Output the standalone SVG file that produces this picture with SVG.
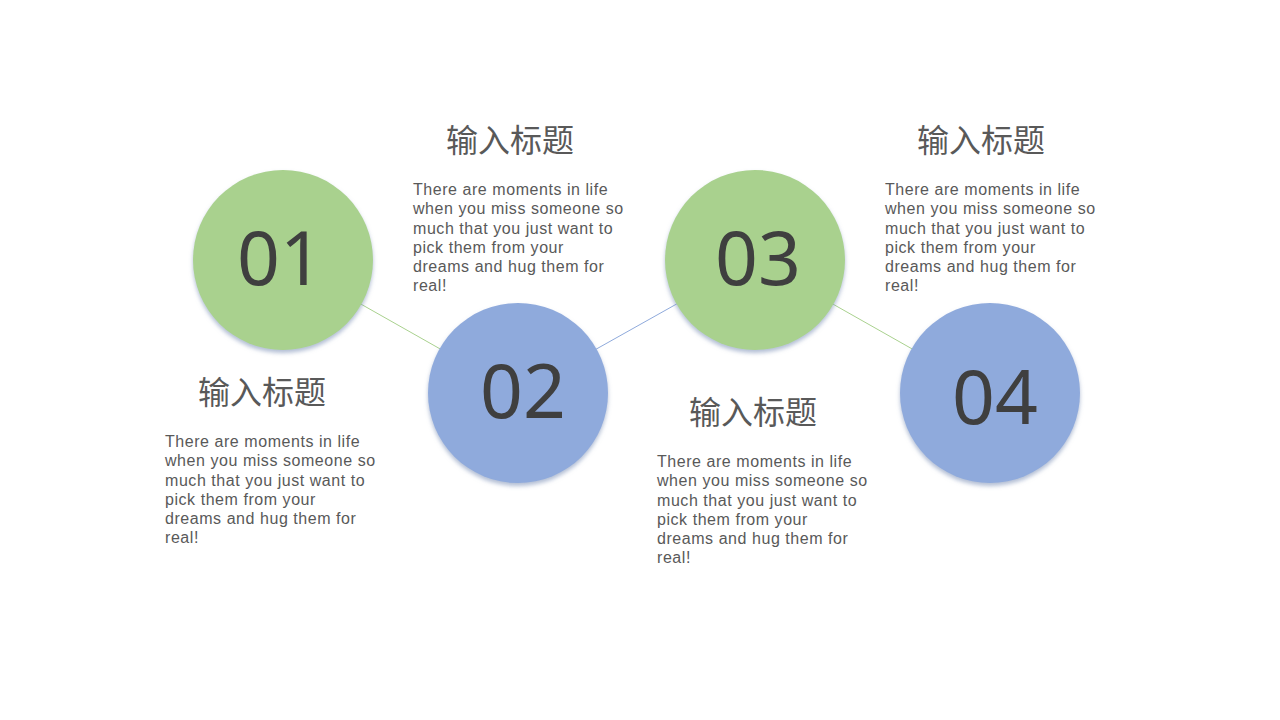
<svg xmlns="http://www.w3.org/2000/svg" width="1280" height="720" viewBox="0 0 1280 720">
<style>
.title{font-family:"Noto Sans CJK SC","Microsoft YaHei",sans-serif;font-size:32px;fill:#595959;text-anchor:middle}
.body{font-family:"Liberation Sans",Arial,sans-serif;font-size:16px;letter-spacing:0.55px;fill:#595959}
.num{font-family:"Noto Sans","Open Sans",sans-serif;font-size:75px;fill:#3f3f3f;text-anchor:middle}
.green{fill:#A9D18E}
.blue{fill:#8FAADC}
</style>
<defs>
<filter id="sh" x="-20%" y="-20%" width="140%" height="150%">
<feDropShadow dx="0" dy="3" stdDeviation="2" flood-color="#7f92b8" flood-opacity="0.6"/>
</filter>
</defs>
<rect width="1280" height="720" fill="#ffffff"/>
<g id="connectors" stroke-width="1">
<line x1="283" y1="260" x2="518" y2="393" stroke="#A9D18E"/>
<line x1="518" y1="393" x2="755" y2="260" stroke="#8FAADC"/>
<line x1="755" y1="260" x2="990" y2="393" stroke="#A9D18E"/>
</g>
<g id="node1">
<circle cx="283" cy="260" r="90" class="green" filter="url(#sh)"/>
<text x="280" y="285" class="num">01</text>
<text x="262" y="404" class="title">输入标题</text>
<text class="body"><tspan x="165" y="447">There are moments in life</tspan><tspan x="165" y="466">when you miss someone so</tspan><tspan x="165" y="486">much that you just want to</tspan><tspan x="165" y="505">pick them from your</tspan><tspan x="165" y="524">dreams and hug them for</tspan><tspan x="165" y="543">real!</tspan></text>
</g>
<g id="node2">
<circle cx="518" cy="393" r="90" class="blue" filter="url(#sh)"/>
<text x="523" y="418" class="num">02</text>
<text x="510" y="152" class="title">输入标题</text>
<text class="body"><tspan x="413" y="195">There are moments in life</tspan><tspan x="413" y="214">when you miss someone so</tspan><tspan x="413" y="234">much that you just want to</tspan><tspan x="413" y="253">pick them from your</tspan><tspan x="413" y="272">dreams and hug them for</tspan><tspan x="413" y="291">real!</tspan></text>
</g>
<g id="node3">
<circle cx="755" cy="260" r="90" class="green" filter="url(#sh)"/>
<text x="758" y="285" class="num">03</text>
<text x="753" y="424" class="title">输入标题</text>
<text class="body"><tspan x="657" y="467">There are moments in life</tspan><tspan x="657" y="486">when you miss someone so</tspan><tspan x="657" y="506">much that you just want to</tspan><tspan x="657" y="525">pick them from your</tspan><tspan x="657" y="544">dreams and hug them for</tspan><tspan x="657" y="563">real!</tspan></text>
</g>
<g id="node4">
<circle cx="990" cy="393" r="90" class="blue" filter="url(#sh)"/>
<text x="995" y="424" class="num">04</text>
<text x="981" y="152" class="title">输入标题</text>
<text class="body"><tspan x="885" y="195">There are moments in life</tspan><tspan x="885" y="214">when you miss someone so</tspan><tspan x="885" y="234">much that you just want to</tspan><tspan x="885" y="253">pick them from your</tspan><tspan x="885" y="272">dreams and hug them for</tspan><tspan x="885" y="291">real!</tspan></text>
</g>
</svg>
